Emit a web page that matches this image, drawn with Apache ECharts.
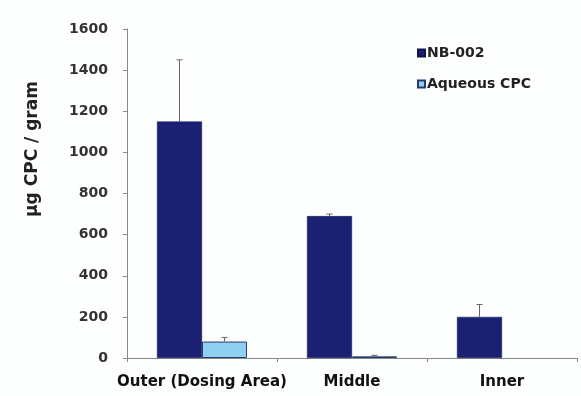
<!DOCTYPE html>
<html><head><meta charset="utf-8">
<script src="https://cdn.jsdelivr.net/npm/echarts@6/dist/echarts.min.js"></script>
<style>html,body{margin:0;padding:0;background:#fff;}#c{width:581px;height:396px;}</style>
</head><body><div id="c"></div>
<script>
const categories = ['Outer (Dosing Area)', 'Middle', 'Inner'];
const nb002 = [1150, 690, 200];
const nb002Err = [300, 10, 60];
const aqueous = [80, 8, null];
const aqueousErr = [20, 5, 0];
const yTicks = [0, 200, 400, 600, 800, 1000, 1200, 1400, 1600];
const yTitle = 'μg CPC / gram';

const FONT = 'DejaVu Sans, Liberation Sans, Arial';
const chart = echarts.init(document.getElementById('c'));
function errSeries(vals, errs, shift) {
  return {
    type: 'custom',
    silent: true,
    z: 5,
    data: vals.map((v, i) => [i, v == null ? 0 : v, (v == null ? 0 : v) + errs[i]]),
    renderItem: function (params, api) {
      const i = api.value(0);
      const base = api.coord([i, api.value(1)]);
      const top = api.coord([i, api.value(2)]);
      const bw = api.size([1, 0])[0];
      const x = base[0] + shift * bw;
      if (api.value(2) <= api.value(1)) return null;
      return {
        type: 'group',
        children: [
          { type: 'line', shape: { x1: x, y1: base[1], x2: x, y2: top[1] }, style: { stroke: '#666', lineWidth: 1 } },
          { type: 'line', shape: { x1: x - 3, y1: top[1], x2: x + 3, y2: top[1] }, style: { stroke: '#666', lineWidth: 1 } }
        ]
      };
    }
  };
}
chart.setOption({
  animation: false,
  backgroundColor: '#fdfefe',
  grid: { left: 127, right: 4, top: 29, bottom: 38 },
  graphic: [{
    type: 'text', x: 33, y: 149, rotation: Math.PI / 2,
    style: { text: yTitle, font: 'bold 17px ' + FONT, fill: '#222', align: 'center', verticalAlign: 'middle' }
  }],
  legend: {
    orient: 'vertical', left: 412, top: 41, itemWidth: 7, itemHeight: 7, itemGap: 17,
    textStyle: { fontFamily: FONT, fontWeight: 'bold', fontSize: 14, color: '#222', padding: [0, 0, 0, -3] },
    data: [{ name: 'NB-002', icon: 'rect' }, { name: 'Aqueous CPC', icon: 'rect' }]
  },
  xAxis: {
    type: 'category', data: categories,
    axisLine: { lineStyle: { color: '#888' } },
    axisTick: { show: true, length: 4, lineStyle: { color: '#888' } },
    axisLabel: { interval: 0, fontFamily: FONT, fontWeight: 'bold', fontSize: 15, color: '#111', margin: 17 }
  },
  yAxis: {
    type: 'value', min: 0, max: 1600, interval: 200,
    axisLine: { show: true, lineStyle: { color: '#888' } },
    axisTick: { show: true, inside: false, length: 4, lineStyle: { color: '#888' } },
    splitLine: { show: false },
    axisLabel: { fontFamily: FONT, fontWeight: 'bold', fontSize: 14, color: '#333', margin: 19,
      formatter: v => yTicks.includes(v) ? String(v) : '' }
  },
  series: [
    { name: 'NB-002', type: 'bar', data: nb002, barGap: '0%', barCategoryGap: '40%',
      itemStyle: { color: '#1b2172', borderColor: '#10144a', borderWidth: 0.5 } },
    { name: 'Aqueous CPC', type: 'bar', data: aqueous,
      itemStyle: { color: '#8fd0f2', borderColor: '#2a3a6a', borderWidth: 1 } },
    errSeries(nb002, nb002Err, -0.15),
    errSeries(aqueous, aqueousErr, 0.15)
  ]
});
</script></body></html>
